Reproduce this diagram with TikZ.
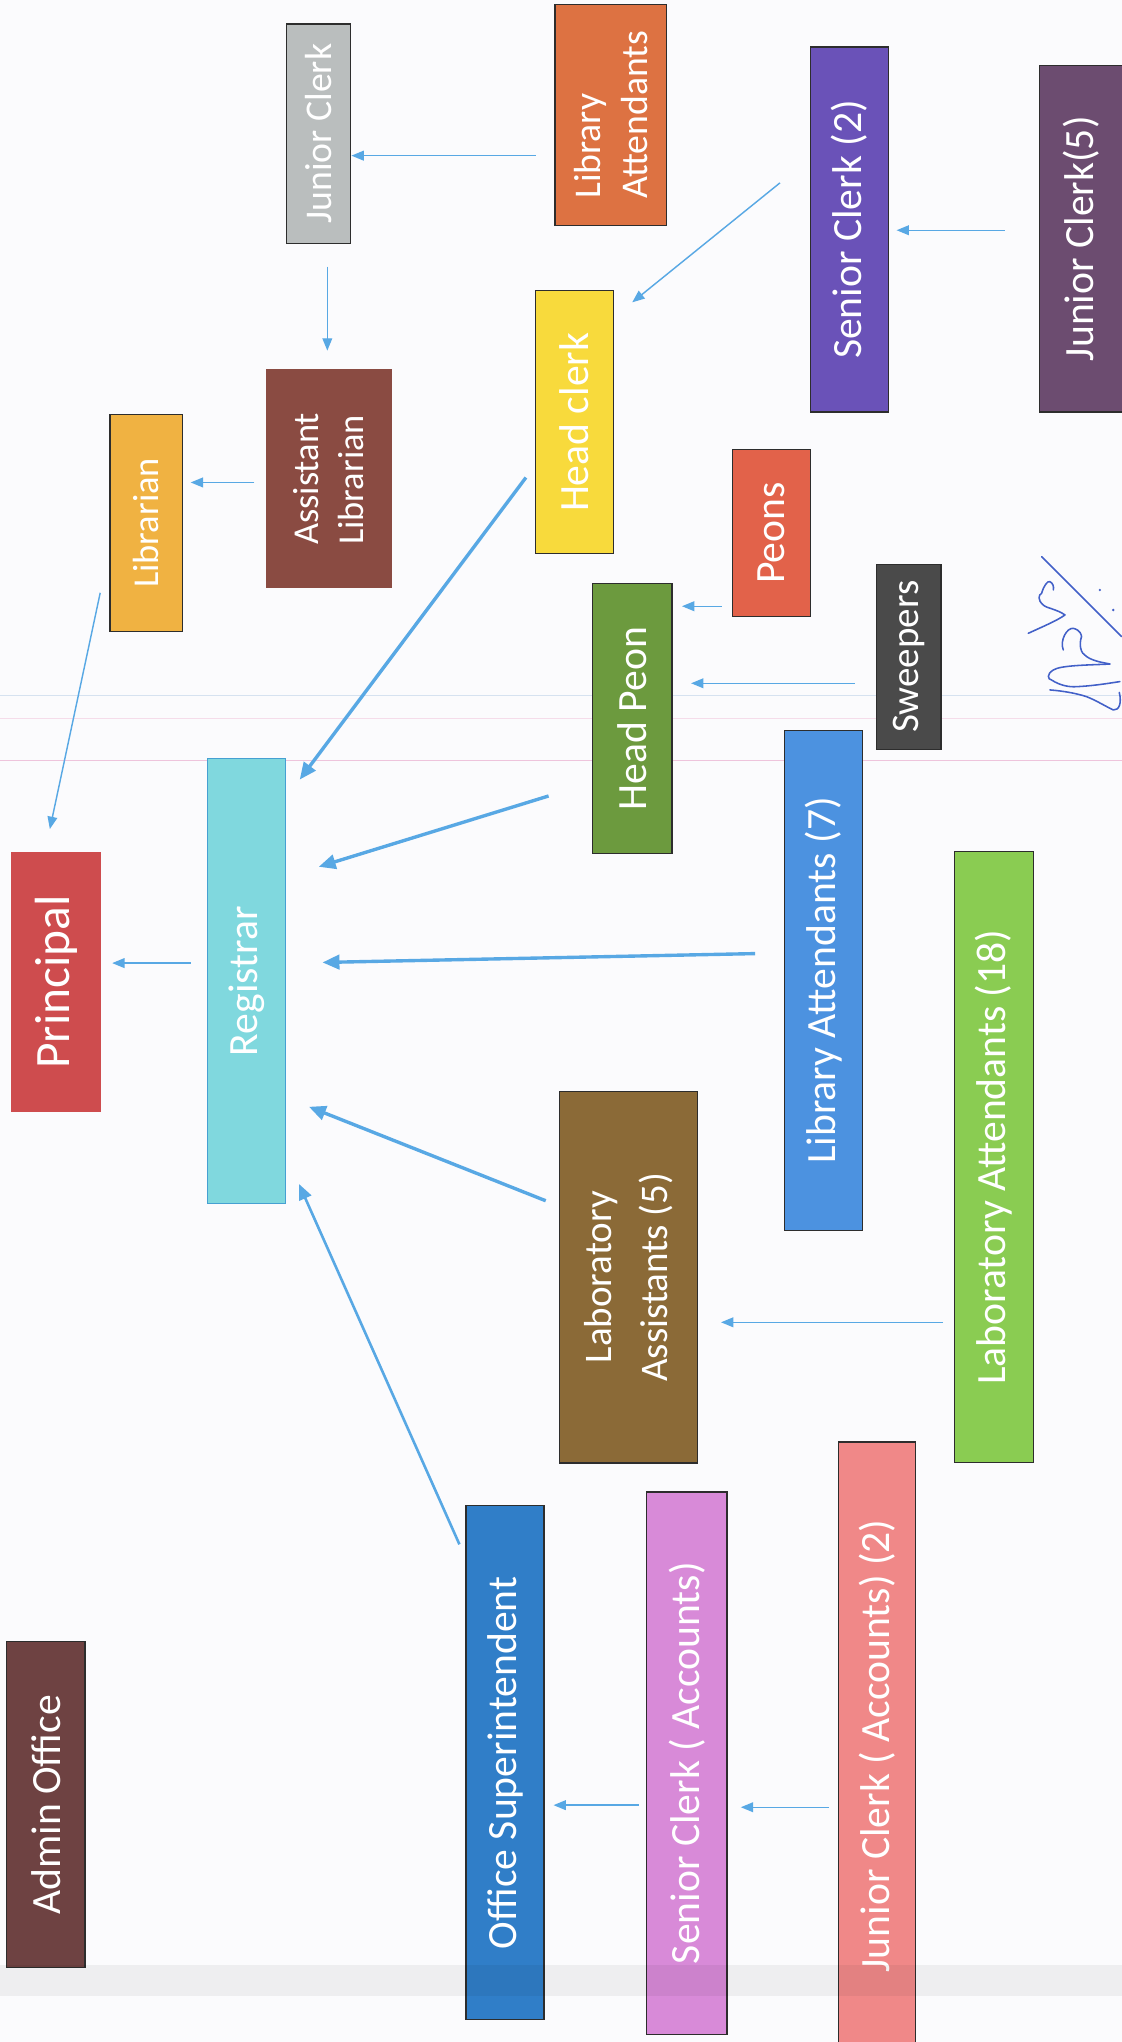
\documentclass[tikz,border=0pt]{standalone}
\usepackage{fontspec}
\setmainfont{Carlito}
\usetikzlibrary{arrows.meta}
\definecolor{paper}{RGB}{251,251,253}
\definecolor{edge}{RGB}{45,45,45}
\definecolor{arrowc}{RGB}{88,168,228}
\definecolor{cPrincipal}{RGB}{206,76,78}
\definecolor{cRegistrar}{RGB}{128,216,222}
\definecolor{cRegEdge}{RGB}{70,160,210}
\definecolor{cLibrarian}{RGB}{240,178,66}
\definecolor{cAsstLib}{RGB}{138,75,66}
\definecolor{cJClerk}{RGB}{186,190,190}
\definecolor{cLibAtt}{RGB}{221,114,66}
\definecolor{cHeadClerk}{RGB}{248,218,60}
\definecolor{cSClerk}{RGB}{106,82,184}
\definecolor{cJClerkFive}{RGB}{108,76,112}
\definecolor{cPeons}{RGB}{226,98,74}
\definecolor{cHeadPeon}{RGB}{108,154,62}
\definecolor{cSweepers}{RGB}{74,74,74}
\definecolor{cLibAttSeven}{RGB}{76,146,224}
\definecolor{cLabAtt}{RGB}{138,204,82}
\definecolor{cLabAsst}{RGB}{139,106,55}
\definecolor{cAdmin}{RGB}{110,66,66}
\definecolor{cOfficeSup}{RGB}{48,126,200}
\definecolor{cSClerkAcc}{RGB}{216,138,216}
\definecolor{cJClerkAcc}{RGB}{240,136,136}
\definecolor{ink}{RGB}{66,96,200}
\definecolor{rulingpink}{RGB}{238,196,220}
\definecolor{rulingblue}{RGB}{214,226,240}
\begin{document}
\begin{tikzpicture}[x=1pt,y=-1pt,
  box/.style={rotate=90, draw=edge, line width=0.9pt, text=white, inner sep=0pt,
    align=center, font=\fontsize{32}{38}\selectfont},
  plain/.style={draw=none},
  small/.style={font=\fontsize{28}{34.6}\selectfont},
  thinarr/.style={draw=arrowc, line width=1.1pt, -{Triangle[length=9.5pt,width=7.5pt]}},
  thickarr/.style={draw=arrowc, line width=2.6pt, -{Triangle[length=13pt,width=11pt]}},
  midarr/.style={draw=arrowc, line width=2pt, -{Triangle[length=12pt,width=10pt]}},
  sig/.style={draw=ink, line width=1.2pt, line cap=round, line join=round}
]
\fill[paper] (0,0) rectangle (862,1569);
\useasboundingbox (0,0) rectangle (862,1569);
% faint ruling of the paper
\draw[rulingblue, line width=0.6pt] (0,534) -- (862,534);
\draw[rulingpink!60, line width=0.5pt] (0,552) -- (862,552);
\draw[rulingpink, line width=0.7pt] (0,584) -- (862,584);

% boxes
\node[box, plain, fill=cPrincipal, minimum width=199.3pt, minimum height=69.6pt,
  font=\fontsize{38}{44}\selectfont] (principal) at (43.1,754.5) {Principal};
\node[box, draw=cRegEdge, fill=cRegistrar, minimum width=342.2pt, minimum height=59.5pt] (registrar) at (189.3,753.9) {Registrar};
\node[box, small, fill=cLibrarian, minimum width=167pt, minimum height=55.9pt] (librarian) at (112.5,401.8) {Librarian};
\node[box, small, plain, fill=cAsstLib, minimum width=168.3pt, minimum height=96.5pt, align=left] (asstlib) at (252.7,367.9) {Assistant\\Librarian};
\node[box, fill=cJClerk, minimum width=168.6pt, minimum height=49.5pt, font=\fontsize{29}{35}\selectfont] (jclerk) at (244.7,102.7) {Junior Clerk};
\node[box, fill=cLibAtt, minimum width=169.3pt, minimum height=85.8pt, align=left, font=\fontsize{29}{35.9}\selectfont] (libatt) at (469.3,88.3) {Library\\Attendants};
\node[box, fill=cHeadClerk, minimum width=202pt, minimum height=59.7pt] (headclerk) at (441.4,324.5) {Head clerk};
\node[box, fill=cSClerk, minimum width=280.5pt, minimum height=60pt] (sclerktwo) at (652.5,176.3) {Senior Clerk (2)};
\node[box, fill=cJClerkFive, minimum width=266.2pt, minimum height=64pt] (jclerkfive) at (831,183.4) {Junior Clerk(5)};
\node[box, fill=cPeons, minimum width=128pt, minimum height=60pt] (peons) at (592.8,409.5) {Peons};
\node[box, fill=cHeadPeon, minimum width=207.3pt, minimum height=61.2pt] (headpeon) at (485.8,552) {Head Peon};
\node[box, fill=cSweepers, minimum width=141.8pt, minimum height=49.5pt, font=\fontsize{30}{36}\selectfont] (sweepers) at (698.3,504.7) {Sweepers};
\node[box, fill=cLibAttSeven, minimum width=384.5pt, minimum height=60pt] (libattseven) at (633,753.3) {Library Attendants (7)};
\node[box, fill=cLabAtt, minimum width=469.8pt, minimum height=60.5pt] (labatt) at (763.8,889.1) {Laboratory Attendants (18)};
\node[box, fill=cLabAsst, minimum width=285.5pt, minimum height=106pt, font=\fontsize{30}{42.6}\selectfont] (labasst) at (483,981.3) {Laboratory\\Assistants (5)};
\node[box, fill=cAdmin, minimum width=250.5pt, minimum height=60.3pt] (admin) at (35.2,1386.8) {Admin Office};
\node[box, fill=cOfficeSup, minimum width=395pt, minimum height=60pt] (officesup) at (388,1354.5) {Office Superintendent};
\node[box, fill=cSClerkAcc, minimum width=416.6pt, minimum height=61.5pt] (sclerkacc) at (527.8,1354.7) {Senior Clerk ( Accounts)};
\node[box, fill=cJClerkAcc, minimum width=467pt, minimum height=59.5pt] (jclerkacc) at (673.8,1341.5) {Junior Clerk ( Accounts) (2)};

% arrow end points (the arrows float free of the boxes)
\coordinate (a1s) at (146.6,740);   \coordinate (a1e) at (86.2,740);
\coordinate (a2s) at (77,455.5);    \coordinate (a2e) at (38.3,637);
\coordinate (a3s) at (195.5,370.7); \coordinate (a3e) at (146.5,370.7);
\coordinate (a4s) at (251.5,204.9); \coordinate (a4e) at (251.5,269.4);
\coordinate (a5s) at (411.5,119.6); \coordinate (a5e) at (270,119.6);
\coordinate (a6s) at (599.3,140.5); \coordinate (a6e) at (485.8,232.3);
\coordinate (a7s) at (772,176.9);   \coordinate (a7e) at (688.9,176.9);
\coordinate (a8s) at (404.1,366.9); \coordinate (a8e) at (230.3,599);
\coordinate (a9s) at (554.7,465.8); \coordinate (a9e) at (524,465.8);
\coordinate (a10s) at (656.9,525);  \coordinate (a10e) at (531,525);
\coordinate (a11s) at (421.5,611.6); \coordinate (a11e) at (244.9,666);
\coordinate (a12s) at (580.2,732.7); \coordinate (a12e) at (247.8,739.5);
\coordinate (a13s) at (419.3,922.6); \coordinate (a13e) at (237.4,850.4);
\coordinate (a14s) at (353,1186.6);  \coordinate (a14e) at (229.7,909.7);
\coordinate (a15s) at (724.7,1016);  \coordinate (a15e) at (554,1016);
\coordinate (a16s) at (490.8,1387);  \coordinate (a16e) at (425.3,1387);
\coordinate (a17s) at (637.1,1388.6); \coordinate (a17e) at (569.2,1388.6);

\draw[thinarr] (a1s) -- (a1e);
\draw[thinarr] (a2s) -- (a2e);
\draw[thinarr] (a3s) -- (a3e);
\draw[thinarr] (a4s) -- (a4e);
\draw[thinarr] (a5s) -- (a5e);
\draw[thinarr] (a6s) -- (a6e);
\draw[thinarr] (a7s) -- (a7e);
\draw[thickarr] (a8s) -- (a8e);
\draw[thinarr] (a9s) -- (a9e);
\draw[thinarr] (a10s) -- (a10e);
\draw[thickarr] (a11s) -- (a11e);
\draw[thickarr] (a12s) -- (a12e);
\draw[thickarr] (a13s) -- (a13e);
\draw[midarr] (a14s) -- (a14e);
\draw[thinarr] (a15s) -- (a15e);
\draw[thinarr] (a16s) -- (a16e);
\draw[thinarr] (a17s) -- (a17e);

% handwritten signature
\draw[sig] (800.3,427.7) -- (861.8,489.2);
\draw[sig] (790.1,486.6) .. controls (800,482) and (812,477) .. (818.3,472.5)
  .. controls (812,468) and (803,467) .. (801.6,464.8)
  .. controls (797,461) and (798,457) .. (800.3,455.9)
  .. controls (802,450) and (805,446) .. (806.7,446.9)
  .. controls (809,448) and (810,451) .. (809.3,453.3);
\draw[sig] (817,499.4) .. controls (814,492) and (820,482) .. (824.7,482.8)
  .. controls (830,484) and (831,488) .. (831,489.2)
  .. controls (829,495) and (830,502) .. (834.9,504.5)
  .. controls (840,508) and (847,509) .. (852.8,510.2);
\draw[sig] (852.8,510.2) .. controls (838,511) and (815,511) .. (809.3,514.8)
  .. controls (804,518) and (805,522) .. (808,522.5)
  .. controls (815,527) and (822,528) .. (827.2,527.6)
  .. controls (840,527) and (852,525) .. (860.5,523.7);
\draw[sig] (806.7,530.1) .. controls (818,531) and (828,533) .. (834.9,535.3)
  .. controls (842,538) and (850,543) .. (855.4,545.5)
  .. controls (860,546) and (862,540) .. (860,532);
\fill[ink] (845.1,453.3) circle (1pt);
\fill[ink] (855.4,468.7) circle (1pt);

% scanner shadow near the lower edge
\fill[black, opacity=0.05] (0,1510) rectangle (862,1534);
\end{tikzpicture}
\end{document}
